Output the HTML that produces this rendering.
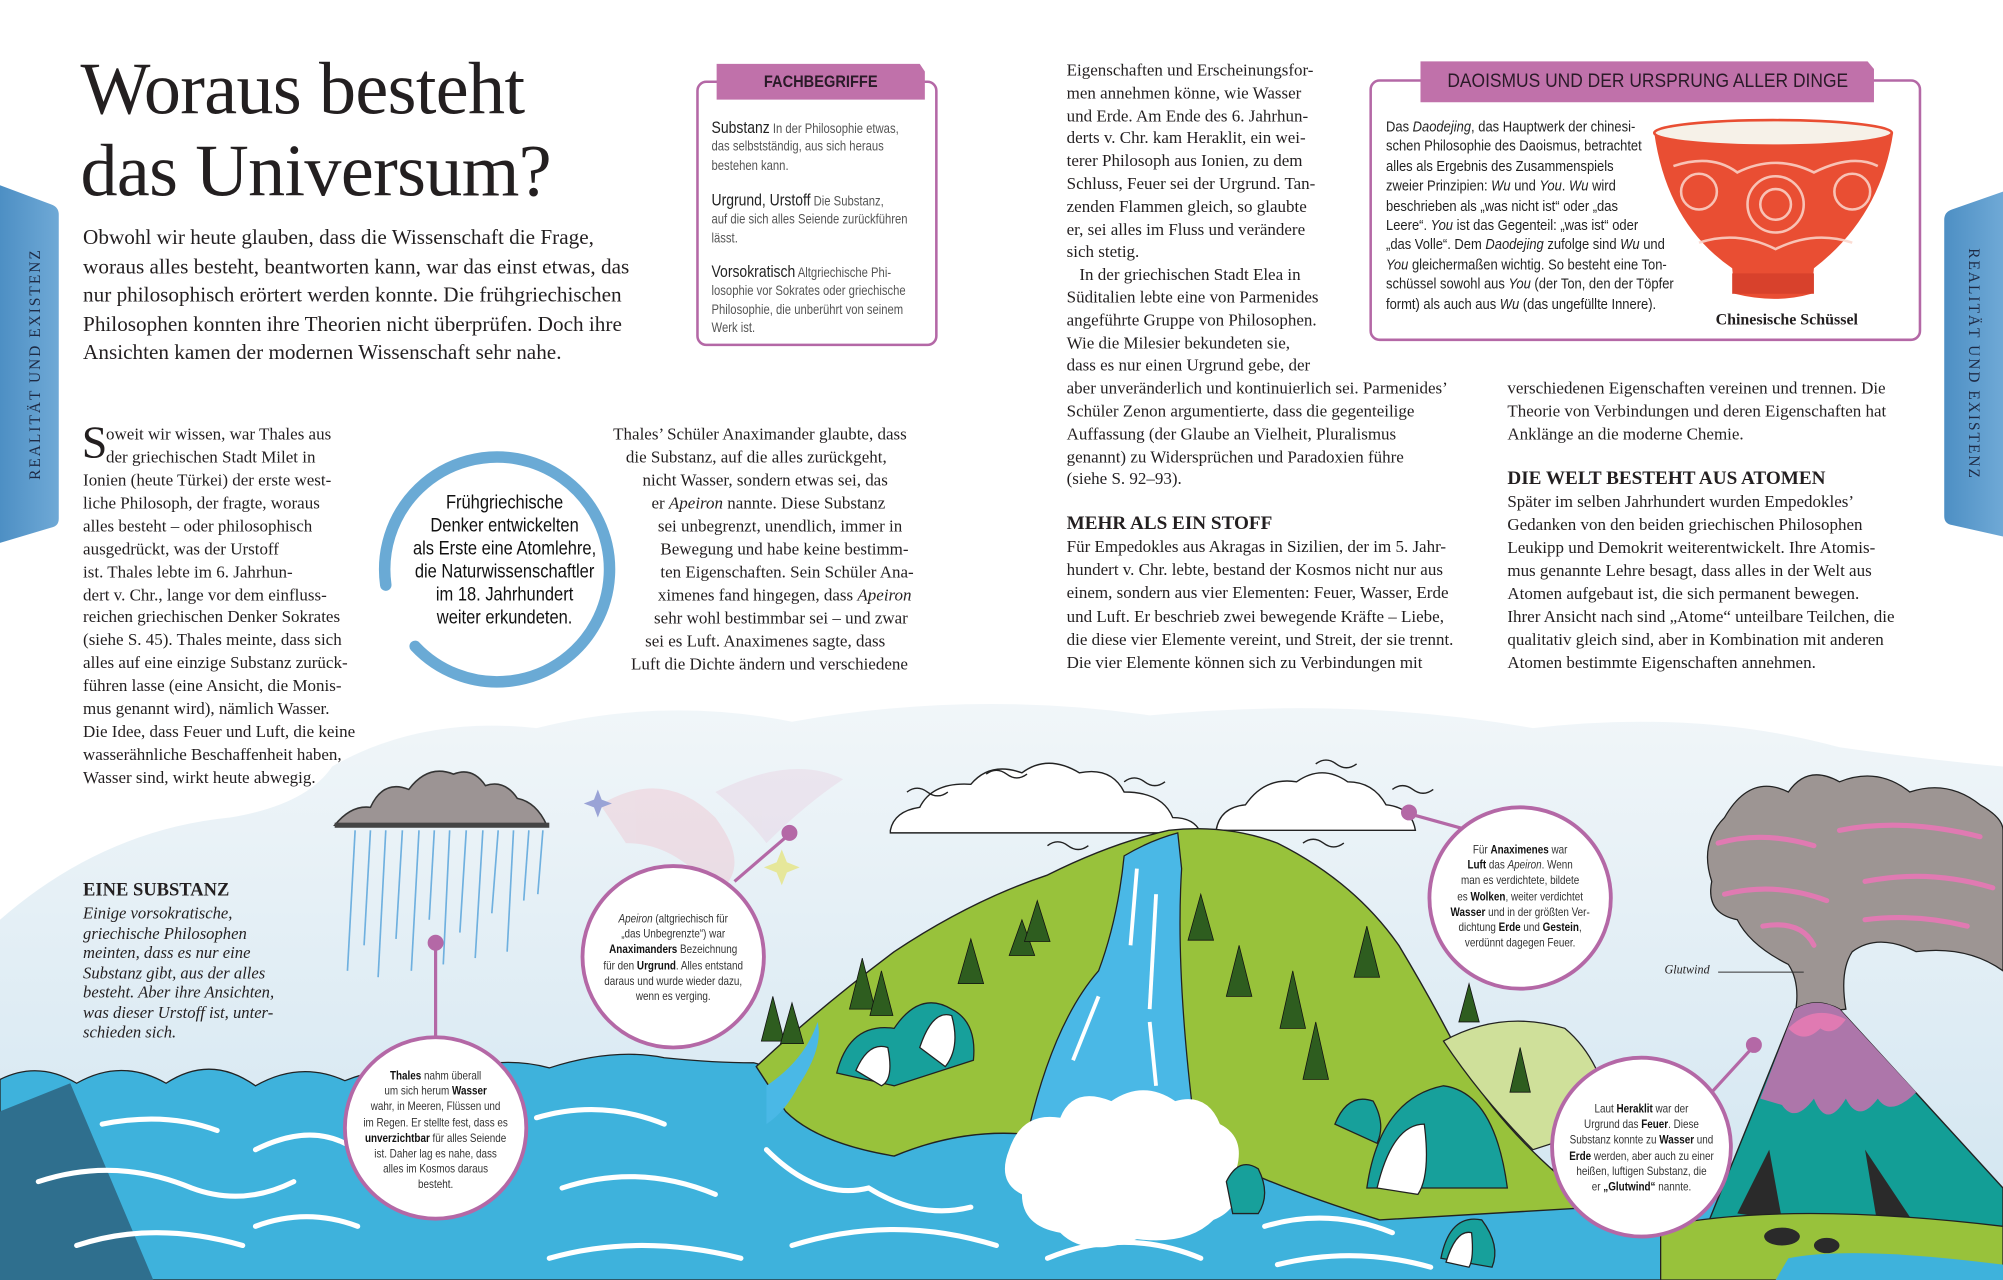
<!DOCTYPE html>
<html><head><meta charset="utf-8">
<style>
html,body{margin:0;padding:0;background:#fff;}
body{width:2003px;height:1280px;overflow:hidden;position:relative;}
#s{position:absolute;left:0;top:0;width:1568px;height:1002px;transform:scale(1.27742);transform-origin:0 0;font-family:"Liberation Serif",serif;color:#231f20;}
.a{position:absolute;white-space:nowrap;}
.l{position:absolute;white-space:nowrap;font-size:13.3px;line-height:18px;}
.n{font-family:"Liberation Sans",sans-serif;}
.fb{position:absolute;white-space:nowrap;font-family:"Liberation Sans",sans-serif;font-size:10.5px;color:#555;line-height:14.3px;transform:scaleX(0.84);transform-origin:0 0;}
.fb b{font-size:13px;color:#222;font-weight:normal;}
.dl{position:absolute;white-space:nowrap;font-family:"Liberation Sans",sans-serif;font-size:11.8px;color:#222;line-height:15.4px;transform:scaleX(0.86);transform-origin:0 0;}
.cc{position:absolute;text-align:center;white-space:nowrap;font-family:"Liberation Sans",sans-serif;font-size:9px;line-height:12.2px;color:#333;transform:scaleX(0.86);transform-origin:50% 0;}
.cc b{color:#111;}
</style></head><body><div id="s">

<svg class="a" style="left:0;top:0" width="1568" height="1002" viewBox="0 0 1568 1002">
<defs>
<linearGradient id="sky" x1="0" y1="0" x2="0" y2="1"><stop offset="0" stop-color="#f1f6f9"/><stop offset="1" stop-color="#cfe4f0"/></linearGradient>
<linearGradient id="tab" x1="0" y1="0" x2="1" y2="0"><stop offset="0" stop-color="#4d8fc4"/><stop offset="1" stop-color="#6fa9d6"/></linearGradient>
</defs>
<path d="M0,145 L40,160 Q46,162 46,168 L46,406 Q46,412 40,413 L0,425 Z" fill="url(#tab)"/>
<path d="M1568,150 L1528,164 Q1522,166 1522,172 L1522,404 Q1522,410 1528,411 L1568,420 Z" fill="url(#tab)"/>
<path d="M0,720 Q80,650 180,640 Q240,630 260,600 Q330,560 420,570 Q520,545 620,565 Q760,540 900,560 Q1060,545 1200,570 Q1330,555 1440,585 Q1510,595 1568,600 L1568,1002 L0,1002 Z" fill="url(#sky)"/>
<g opacity="0.35" fill="#f2b9c6"><path d="M470,630 Q520,600 560,640 Q590,680 560,700 Q530,660 490,660 Z"/><path d="M560,620 Q620,590 660,610 Q630,630 600,660 Q585,640 560,620Z" fill="#e9c9dd"/></g>
<path d="M468,618 l3,8 8,3 -8,3 -3,8 -3,-8 -8,-3 8,-3z" fill="#9aa3d6"/>
<path d="M612,665 l4,10 10,4 -10,4 -4,10 -4,-10 -10,-4 10,-4z" fill="#e6e79a"/>
<g stroke="#6fb0df" stroke-width="1.3">
<line x1="278" y1="650" x2="272" y2="760"/><line x1="290" y1="650" x2="285" y2="740"/><line x1="302" y1="650" x2="296" y2="765"/><line x1="315" y1="650" x2="310" y2="735"/><line x1="328" y1="650" x2="322" y2="760"/><line x1="340" y1="650" x2="336" y2="720"/><line x1="352" y1="650" x2="347" y2="755"/><line x1="365" y1="650" x2="360" y2="730"/><line x1="378" y1="650" x2="372" y2="750"/><line x1="390" y1="650" x2="385" y2="715"/><line x1="402" y1="650" x2="397" y2="745"/><line x1="414" y1="650" x2="410" y2="705"/><line x1="425" y1="650" x2="421" y2="700"/></g>
<path d="M262,646 Q275,630 290,632 Q300,610 320,618 Q335,598 355,606 Q370,600 380,615 Q395,610 405,625 Q420,628 428,646 Z" fill="#9c9494" stroke="#333" stroke-width="1.2"/>
<rect x="262" y="644" width="168" height="4" fill="#444"/>
<g fill="#fff" stroke="#222" stroke-width="1.1">
<path d="M697,650 Q700,635 720,632 Q730,612 760,614 Q775,596 800,605 Q820,590 845,605 Q870,600 880,620 Q910,620 918,640 Q935,640 940,652 L697,652 Z"/>
<path d="M952,650 Q955,632 975,630 Q990,608 1015,612 Q1035,598 1055,612 Q1075,612 1085,630 Q1105,632 1108,650 Z"/>
</g>
<g fill="none" stroke="#222" stroke-width="1.1">
<path d="M772,606 q8,-6 16,0 t16,0"/><path d="M880,612 q8,-6 16,0 t16,0"/><path d="M1030,598 q8,-6 16,0 t16,0"/><path d="M1090,618 q8,-6 16,0 t16,0"/><path d="M1020,660 q8,-6 16,0 t16,0"/><path d="M820,662 q8,-6 16,0 t16,0"/><path d="M710,620 q8,-6 16,0 t16,0"/>
</g>
<path d="M0,845 Q30,830 60,848 Q95,828 130,848 Q165,825 200,850 Q235,830 270,846 Q310,830 345,842 Q390,825 430,836 Q480,820 520,828 Q560,832 590,832 L620,840 L1568,960 L1568,1002 L0,1002 Z" fill="#3eb2dc" stroke="#222" stroke-width="1"/>
<path d="M0,870 L55,848 L120,1002 L0,1002 Z" fill="#2f6f8e"/>
<path d="M592,835 Q640,790 700,745 Q760,705 820,685 Q870,660 915,650 Q960,645 1000,660 Q1060,690 1095,740 Q1125,790 1150,840 Q1180,890 1250,945 L1080,955 Q1000,930 950,905 L820,890 Q760,880 700,905 Q640,895 615,870 Z" fill="#98c23b" stroke="#222" stroke-width="1.1"/>
<path d="M1130,815 Q1175,790 1225,805 Q1255,830 1262,880 L1200,900 Q1160,860 1130,815 Z" fill="#cfe09a" stroke="#222" stroke-width="1"/>
<path d="M600,850 Q630,830 640,800 Q645,820 625,850 Q615,870 600,880 Z" fill="#4ab8e6"/>
<g stroke="#222" stroke-width="1">
<path d="M655,840 Q665,800 700,805 Q720,775 745,790 Q765,800 762,830 L700,850 Z" fill="#17a09b"/>
<path d="M670,838 Q680,815 695,820 Q700,845 690,850Z" fill="#fff"/>
<path d="M720,820 Q730,790 745,795 Q752,820 740,835Z" fill="#fff"/>
<path d="M1070,930 Q1080,860 1130,850 Q1170,855 1180,930 Z" fill="#17a09b"/>
<path d="M1078,930 Q1090,880 1115,880 Q1120,920 1110,935Z" fill="#fff"/>
<path d="M1128,985 Q1135,950 1160,955 Q1175,975 1168,992 Z" fill="#17a09b"/>
<path d="M1132,988 Q1140,962 1152,965 Q1154,985 1150,992Z" fill="#fff"/>
<path d="M1045,880 Q1055,855 1075,862 Q1085,880 1078,895Z" fill="#17a09b"/>
</g>
<path d="M880,670 Q900,658 922,652 L925,680 Q920,760 935,880 L805,885 Q825,800 860,760 Q875,720 880,670 Z" fill="#4ab8e6" stroke="#222" stroke-width="1"/>
<g stroke="#fff" stroke-width="3" fill="none"><path d="M890,680 L885,740"/><path d="M905,700 L900,790"/><path d="M860,780 L840,830"/><path d="M900,800 L905,850"/></g>
<path d="M790,900 Q800,870 830,875 Q840,850 870,862 Q895,845 920,862 Q945,855 955,880 Q975,890 968,915 Q975,945 950,955 Q930,975 890,970 Q850,985 830,965 Q800,960 800,935 Q780,925 790,900 Z" fill="#fff"/>
<path d="M960,925 Q970,905 985,915 Q995,935 985,950 L965,950Z" fill="#17a09b" stroke="#222" stroke-width="1"/>
<g stroke="#fff" stroke-width="4" fill="none" stroke-linecap="round">
<path d="M80,880 Q130,870 170,885"/><path d="M30,925 Q90,905 150,930 Q190,945 230,925"/><path d="M60,975 Q120,955 190,975"/><path d="M200,900 Q240,880 270,895"/><path d="M420,875 Q470,860 520,880"/><path d="M440,930 Q500,910 560,935"/><path d="M430,985 Q500,965 580,985"/><path d="M600,900 Q640,940 680,930 Q720,955 760,945"/><path d="M620,975 Q700,950 780,975"/><path d="M820,985 Q880,960 940,985"/><path d="M990,960 Q1040,945 1090,965"/><path d="M1000,990 Q1060,975 1120,992"/><path d="M200,960 Q240,945 280,960"/></g>
<g fill="#2e5d1f" stroke="#111" stroke-width="0.6">
<path d="M800,720 l-10,28 h20z"/><path d="M812,705 l-10,32 h20z"/><path d="M760,735 l-10,35 h20z"/><path d="M940,700 l-10,36 h20z"/><path d="M970,740 l-10,40 h20z"/><path d="M1012,760 l-10,45 h20z"/><path d="M1030,800 l-10,45 h20z"/><path d="M1070,725 l-10,40 h20z"/><path d="M675,750 l-10,40 h20z"/><path d="M690,760 l-9,35 h18z"/><path d="M605,780 l-9,35 h18z"/><path d="M620,785 l-9,32 h18z"/><path d="M1150,770 l-8,30 h16z"/><path d="M1190,820 l-8,35 h16z"/>
</g>
<path d="M1340,690 Q1330,660 1350,640 Q1370,605 1400,620 Q1415,598 1440,612 Q1470,600 1495,620 Q1525,610 1550,630 Q1568,640 1568,650 L1568,760 Q1540,740 1500,745 Q1470,730 1450,745 Q1440,760 1445,790 L1405,795 Q1410,770 1400,755 Q1370,740 1360,720 Q1335,715 1340,690 Z" fill="#9d9593" stroke="#222" stroke-width="1"/>
<g stroke="#e07ab2" stroke-width="4" fill="none" stroke-linecap="round"><path d="M1345,660 Q1380,650 1420,662"/><path d="M1440,650 Q1490,640 1550,655"/><path d="M1350,700 Q1390,690 1430,705"/><path d="M1460,690 Q1510,680 1560,695"/><path d="M1380,725 Q1410,720 1420,740"/><path d="M1460,720 Q1500,715 1540,725"/></g>
<path d="M1330,975 L1405,790 Q1422,780 1440,790 L1568,930 L1568,975 Z" fill="#139e96" stroke="#222" stroke-width="1.1"/>
<path d="M1378,860 L1405,790 Q1422,780 1440,790 L1500,855 Q1480,875 1470,860 Q1455,880 1445,860 Q1430,885 1420,860 Q1405,880 1395,865 Z" fill="#ad76aa"/>
<path d="M1400,805 Q1420,785 1445,798 Q1435,812 1425,805 Q1412,818 1400,805Z" fill="#e07ab2"/>
<path d="M1360,950 L1385,900 L1395,955 Z M1460,900 L1500,960 L1470,960 Z" fill="#2a2a2a"/>
<path d="M1300,960 Q1400,940 1568,960 L1568,1002 L1300,1002 Z" fill="#98c23b" stroke="#222" stroke-width="1"/>
<ellipse cx="1395" cy="968" rx="14" ry="7" fill="#2a2a2a"/><ellipse cx="1430" cy="975" rx="10" ry="6" fill="#2a2a2a"/>
<path d="M1400,985 Q1450,975 1568,990 L1568,1002 L1390,1002 Z" fill="#3eb2dc"/>
<line x1="1345" y1="761" x2="1412" y2="761" stroke="#333" stroke-width="0.8"/>
<g stroke="#b468a6" stroke-width="2.5" fill="#b468a6">
<line x1="341" y1="812" x2="341" y2="738"/><circle cx="341" cy="738" r="5"/>
<line x1="575" y1="690" x2="618" y2="653"/><circle cx="618" cy="652" r="5"/>
<line x1="1150" y1="650" x2="1103" y2="637"/><circle cx="1103" cy="636" r="5"/>
<line x1="1340" y1="855" x2="1372" y2="820"/><circle cx="1373" cy="818" r="5"/>
</g>
<g fill="#fff" stroke="#b468a6" stroke-width="3">
<circle cx="341" cy="883" r="71"/><circle cx="527" cy="749" r="71"/><circle cx="1190" cy="703" r="71"/><circle cx="1285" cy="898" r="70"/>
</g>
<path d="M302,458 A88,88 0 1 1 325,506" fill="none" stroke="#6aaad5" stroke-width="9" stroke-linecap="round"/>
<rect x="546" y="64" width="187" height="206" rx="7" fill="#fff" stroke="#b468a6" stroke-width="2"/>
<path d="M561,50 L720,50 L724,56 L724,78 L561,78 Z" fill="#c071aa"/>
<rect x="1073" y="63" width="430" height="203" rx="7" fill="#fff" stroke="#b468a6" stroke-width="2"/>
<path d="M1112,48 L1462,48 L1467,54 L1467,80 L1112,80 Z" fill="#c071aa"/>
<path d="M1295,104 Q1390,92 1482,104 Q1472,170 1420,210 L1418,230 Q1390,238 1358,230 L1356,210 Q1305,175 1295,104 Z" fill="#e94e33"/>
<ellipse cx="1388" cy="104" rx="93" ry="10" fill="#f6f1e8" stroke="#e94e33" stroke-width="2"/>
<g fill="none" stroke="#fbd7cc" stroke-width="2" opacity="0.85">
<circle cx="1390" cy="160" r="22"/><circle cx="1390" cy="160" r="12"/><circle cx="1330" cy="150" r="14"/><circle cx="1450" cy="150" r="14"/><path d="M1310,130 Q1340,120 1360,135 Q1390,120 1420,135 Q1450,120 1470,130"/><path d="M1330,190 Q1360,180 1390,195 Q1420,180 1450,190"/></g>
<rect x="1356" y="214" width="64" height="16" fill="#d8412c"/>
</svg>

<div class="a" style="left:28px;top:285px;transform:translate(-50%,-50%) rotate(-90deg);font-size:12px;letter-spacing:1.6px;color:#1e2a44;">REALITÄT UND EXISTENZ</div>
<div class="a" style="left:1545px;top:285px;transform:translate(-50%,-50%) rotate(90deg);font-size:12px;letter-spacing:1.6px;color:#1e2a44;">REALITÄT UND EXISTENZ</div>

<div class="a" style="left:63px;top:40px;font-size:58px;line-height:60px;letter-spacing:-0.5px;">Woraus besteht</div>
<div class="a" style="left:63px;top:104px;font-size:58px;line-height:60px;letter-spacing:-0.5px;">das Universum?</div>
<div class="a" style="left:65px;top:175px;font-size:16.6px;line-height:22.6px;">Obwohl wir heute glauben, dass die Wissenschaft die Frage,<br>woraus alles besteht, beantworten kann, war das einst etwas, das<br>nur philosophisch erörtert werden konnte. Die frühgriechischen<br>Philosophen konnten ihre Theorien nicht überprüfen. Doch ihre<br>Ansichten kamen der modernen Wissenschaft sehr nahe.</div>

<div class="a n" style="left:561px;top:55px;width:163px;text-align:center;font-size:13px;font-weight:bold;line-height:18px;color:#2a1a28;transform:scaleX(0.88);">FACHBEGRIFFE</div>
<div class="fb" style="left:557px;top:93px;"><b>Substanz</b> In der Philosophie etwas,<br>das selbstständig, aus sich heraus<br>bestehen kann.</div>
<div class="fb" style="left:557px;top:150px;"><b>Urgrund, Urstoff</b> Die Substanz,<br>auf die sich alles Seiende zurückführen<br>lässt.</div>
<div class="fb" style="left:557px;top:206px;"><b>Vorsokratisch</b> Altgriechische Phi-<br>losophie vor Sokrates oder griechische<br>Philosophie, die unberührt von seinem<br>Werk ist.</div>

<div class="a" style="left:64px;top:326px;font-size:36px;line-height:40px;">S</div>
<div class="l" style="left:83px;top:331px;">oweit wir wissen, war Thales aus</div>
<div class="l" style="left:83px;top:349px;">der griechischen Stadt Milet in</div>
<div class="l" style="left:65px;top:367px;line-height:17.9px;">Ionien (heute Türkei) der erste west-<br>liche Philosoph, der fragte, woraus<br>alles besteht – oder philosophisch<br>ausgedrückt, was der Urstoff<br>ist. Thales lebte im 6. Jahrhun-<br>dert v. Chr., lange vor dem einfluss-<br>reichen griechischen Denker Sokrates<br>(siehe S. 45). Thales meinte, dass sich<br>alles auf eine einzige Substanz zurück-<br>führen lasse (eine Ansicht, die Monis-<br>mus genannt wird), nämlich Wasser.<br>Die Idee, dass Feuer und Luft, die keine<br>wasserähnliche Beschaffenheit haben,<br>Wasser sind, wirkt heute abwegig.</div>

<div class="a n" style="left:295px;top:385px;width:200px;text-align:center;font-size:15px;line-height:18px;color:#111;transform:scaleX(0.86);">Frühgriechische<br>Denker entwickelten<br>als Erste eine Atomlehre,<br>die Naturwissenschaftler<br>im 18. Jahrhundert<br>weiter erkundeten.</div>

<div class="l" style="left:480px;top:331px;">Thales’ Schüler Anaximander glaubte, dass</div>
<div class="l" style="left:490px;top:349px;">die Substanz, auf die alles zurückgeht,</div>
<div class="l" style="left:503px;top:367px;">nicht Wasser, sondern etwas sei, das</div>
<div class="l" style="left:510px;top:385px;">er <i>Apeiron</i> nannte. Diese Substanz</div>
<div class="l" style="left:515px;top:403px;">sei unbegrenzt, unendlich, immer in</div>
<div class="l" style="left:517px;top:421px;">Bewegung und habe keine bestimm-</div>
<div class="l" style="left:517px;top:439px;">ten Eigenschaften. Sein Schüler Ana-</div>
<div class="l" style="left:515px;top:457px;">ximenes fand hingegen, dass <i>Apeiron</i></div>
<div class="l" style="left:512px;top:475px;">sehr wohl bestimmbar sei – und zwar</div>
<div class="l" style="left:505px;top:493px;">sei es Luft. Anaximenes sagte, dass</div>
<div class="l" style="left:494px;top:511px;">Luft die Dichte ändern und verschiedene</div>

<div class="l" style="left:835px;top:46px;line-height:17.8px;">Eigenschaften und Erscheinungsfor-<br>men annehmen könne, wie Wasser<br>und Erde. Am Ende des 6. Jahrhun-<br>derts v. Chr. kam Heraklit, ein wei-<br>terer Philosoph aus Ionien, zu dem<br>Schluss, Feuer sei der Urgrund. Tan-<br>zenden Flammen gleich, so glaubte<br>er, sei alles im Fluss und verändere<br>sich stetig.<br>&nbsp;&nbsp;&nbsp;In der griechischen Stadt Elea in<br>Süditalien lebte eine von Parmenides<br>angeführte Gruppe von Philosophen.<br>Wie die Milesier bekundeten sie,<br>dass es nur einen Urgrund gebe, der<br>aber unveränderlich und kontinuierlich sei. Parmenides’<br>Schüler Zenon argumentierte, dass die gegenteilige<br>Auffassung (der Glaube an Vielheit, Pluralismus<br>genannt) zu Widersprüchen und Paradoxien führe<br>(siehe S. 92–93).</div>
<div class="a" style="left:835px;top:401px;font-size:15px;font-weight:bold;line-height:18px;">MEHR ALS EIN STOFF</div>
<div class="l" style="left:835px;top:419px;line-height:18.2px;">Für Empedokles aus Akragas in Sizilien, der im 5. Jahr-<br>hundert v. Chr. lebte, bestand der Kosmos nicht nur aus<br>einem, sondern aus vier Elementen: Feuer, Wasser, Erde<br>und Luft. Er beschrieb zwei bewegende Kräfte – Liebe,<br>die diese vier Elemente vereint, und Streit, der sie trennt.<br>Die vier Elemente können sich zu Verbindungen mit</div>

<div class="l" style="left:1180px;top:295px;line-height:17.9px;">verschiedenen Eigenschaften vereinen und trennen. Die<br>Theorie von Verbindungen und deren Eigenschaften hat<br>Anklänge an die moderne Chemie.</div>
<div class="a" style="left:1180px;top:366px;font-size:15px;font-weight:bold;line-height:18px;">DIE WELT BESTEHT AUS ATOMEN</div>
<div class="l" style="left:1180px;top:384px;line-height:18px;">Später im selben Jahrhundert wurden Empedokles’<br>Gedanken von den beiden griechischen Philosophen<br>Leukipp und Demokrit weiterentwickelt. Ihre Atomis-<br>mus genannte Lehre besagt, dass alles in der Welt aus<br>Atomen aufgebaut ist, die sich permanent bewegen.<br>Ihrer Ansicht nach sind „Atome“ unteilbare Teilchen, die<br>qualitativ gleich sind, aber in Kombination mit anderen<br>Atomen bestimmte Eigenschaften annehmen.</div>

<div class="a n" style="left:1112px;top:54px;width:350px;text-align:center;font-size:15.5px;line-height:20px;color:#2a1a28;transform:scaleX(0.88);">DAOISMUS UND DER URSPRUNG ALLER DINGE</div>
<div class="dl" style="left:1085px;top:92px;">Das <i>Daodejing</i>, das Hauptwerk der chinesi-<br>schen Philosophie des Daoismus, betrachtet<br>alles als Ergebnis des Zusammenspiels<br>zweier Prinzipien: <i>Wu</i> und <i>You</i>. <i>Wu</i> wird<br>beschrieben als „was nicht ist“ oder „das<br>Leere“. <i>You</i> ist das Gegenteil: „was ist“ oder<br>„das Volle“. Dem <i>Daodejing</i> zufolge sind <i>Wu</i> und<br><i>You</i> gleichermaßen wichtig. So besteht eine Ton-<br>schüssel sowohl aus <i>You</i> (der Ton, den der Töpfer<br>formt) als auch aus <i>Wu</i> (das ungefüllte Innere).</div>
<div class="a" style="left:1343px;top:242px;font-size:12.5px;font-weight:bold;line-height:16px;">Chinesische Schüssel</div>

<div class="a" style="left:65px;top:688px;font-size:14.5px;font-weight:bold;line-height:18px;">EINE SUBSTANZ</div>
<div class="a" style="left:65px;top:707px;font-size:13px;font-style:italic;line-height:15.5px;">Einige vorsokratische,<br>griechische Philosophen<br>meinten, dass es nur eine<br>Substanz gibt, aus der alles<br>besteht. Aber ihre Ansichten,<br>was dieser Urstoff ist, unter-<br>schieden sich.</div>

<div class="cc" style="left:271px;top:836px;width:140px;"><b>Thales</b> nahm überall<br>um sich herum <b>Wasser</b><br>wahr, in Meeren, Flüssen und<br>im Regen. Er stellte fest, dass es<br><b>unverzichtbar</b> für alles Seiende<br>ist. Daher lag es nahe, dass<br>alles im Kosmos daraus<br>besteht.</div>
<div class="cc" style="left:457px;top:713px;width:140px;"><i>Apeiron</i> (altgriechisch für<br>„das Unbegrenzte“) war<br><b>Anaximanders</b> Bezeichnung<br>für den <b>Urgrund</b>. Alles entstand<br>daraus und wurde wieder dazu,<br>wenn es verging.</div>
<div class="cc" style="left:1120px;top:659px;width:140px;">Für <b>Anaximenes</b> war<br><b>Luft</b> das <i>Apeiron</i>. Wenn<br>man es verdichtete, bildete<br>es <b>Wolken</b>, weiter verdichtet<br><b>Wasser</b> und in der größten Ver-<br>dichtung <b>Erde</b> und <b>Gestein</b>,<br>verdünnt dagegen Feuer.</div>
<div class="cc" style="left:1215px;top:862px;width:140px;">Laut <b>Heraklit</b> war der<br>Urgrund das <b>Feuer</b>. Diese<br>Substanz konnte zu <b>Wasser</b> und<br><b>Erde</b> werden, aber auch zu einer<br>heißen, luftigen Substanz, die<br>er <b>„Glutwind“</b> nannte.</div>
<div class="a" style="left:1303px;top:754px;font-size:9.5px;font-style:italic;line-height:12px;">Glutwind</div>

</div></body></html>
